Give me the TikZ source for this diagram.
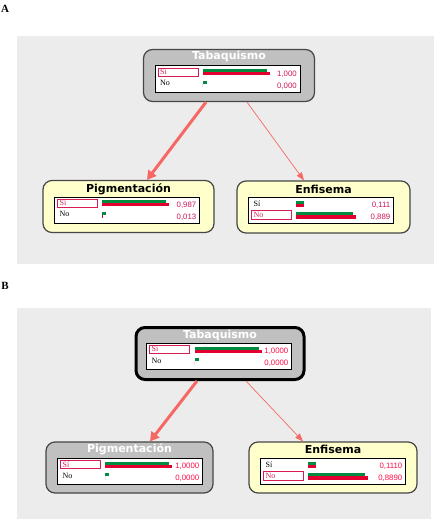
\documentclass[tikz,border=0pt]{standalone}
\usepackage{fontspec}
\setmainfont{Liberation Serif}
\newfontfamily\titlefont{DejaVu Sans}
\newfontfamily\valfont{Liberation Sans}
\usetikzlibrary{arrows.meta}

\definecolor{panelbg}{RGB}{236,236,236}
\definecolor{nodeyellow}{RGB}{255,255,204}
\definecolor{nodegrey}{RGB}{192,192,192}
\definecolor{nodeline}{RGB}{70,70,70}
\definecolor{bargreen}{RGB}{0,140,64}
\definecolor{barred}{RGB}{226,0,48}
\definecolor{selred}{RGB}{214,30,84}
\definecolor{valA}{RGB}{204,20,90}
\definecolor{valB}{RGB}{255,10,70}
\definecolor{inflcol}{RGB}{246,104,100}

\tikzset{
  bnnode/.style={draw=nodeline, line width=1.2pt, rounded corners=9pt, fill=nodeyellow,
    minimum width=171pt, minimum height=52pt, inner sep=0pt},
  bntitle/.style={font=\titlefont\bfseries\fontsize{11}{13}\selectfont, inner sep=0pt},
  statetxt/.style={font=\fontsize{8}{9}\selectfont, inner sep=0pt, anchor=west},
  valtxt/.style={font=\valfont\fontsize{7.8}{9}\selectfont, inner sep=0pt, anchor=east},
  selbox/.style={draw=selred, line width=0.8pt, fill=white},
  panellabel/.style={font=\bfseries\fontsize{11}{12}\selectfont, inner sep=0pt},
  infl/.style={draw=inflcol, line width=0.7pt, -{Triangle[length=8pt,width=6pt]}},
  strong/.style={line width=3pt, -{Triangle[length=9pt,width=10pt]}}
}

% monitor box: node, boxed row, p(Si), p(No), value Si, value No, value colour
\newcommand{\bnmonitor}[7]{%
  \ifnum#2=1 \def\rowAcol{selred}\def\rowBcol{black}\else\def\rowAcol{black}\def\rowBcol{selred}\fi
  \begin{scope}[shift={(#1.north west)}]
    \begin{scope}[shift={(12,17)}]
      \draw[black, line width=0.8pt, fill=white] (0,0) rectangle (145,26);
      \ifnum#2=1 \draw[selbox] (3,2) rectangle (43,10);\else\draw[selbox] (3,13) rectangle (43,22);\fi
      \node[statetxt, text=\rowAcol] (#1si) at (5,6) {Sí};
      \node[statetxt, text=\rowBcol] (#1no) at (5,17.5) {No};
      % bars
      \fill[bargreen] (48,3.5) rectangle ({48+max(4,64*#3)},6.5);
      \fill[barred] (48,6.5) rectangle ({48+67*#3},9.5);
      \fill[bargreen] (48,15) rectangle ({48+max(4,64*#4)},18);
      \fill[barred] (48,18) rectangle ({48+67*#4},21.5);
      \node[valtxt, text=#7] (#1va) at (142,8) {#5};
      \node[valtxt, text=#7] (#1vb) at (142,20) {#6};
    \end{scope}
  \end{scope}}

\begin{document}
\begin{tikzpicture}[x=1pt,y=-1pt]
\useasboundingbox (0,0) rectangle (436,519);
% panels
\fill[panelbg] (17,36) rectangle (434,264);
\fill[panelbg] (17,308) rectangle (431,519);
\node[panellabel] (labA) at (5,8.5) {A};
\node[panellabel] (labB) at (5,286) {B};

% panel A
\node[bnnode, fill=nodegrey] (tabA) at (229,75.5) {};
\node[bntitle, text=white] (tabAt) at ([yshift=-8pt]tabA.north) {Tabaquismo};
\bnmonitor{tabA}{1}{1}{0}{1,000}{0,000}{valA}

\node[bnnode] (pigA) at (128.5,206.5) {};
\node[bntitle] (pigAt) at ([yshift=-9pt]pigA.north) {Pigmentación};
\bnmonitor{pigA}{1}{0.987}{0.013}{0,987}{0,013}{valA}

\node[bnnode, minimum width=173pt] (enfA) at (323.5,207) {};
\node[bntitle] (enfAt) at ([yshift=-8.5pt]enfA.north) {Enfisema};
\bnmonitor{enfA}{2}{0.111}{0.889}{0,111}{0,889}{valA}

\draw[infl, strong] ([xshift=-23pt]tabA.south) -- ([xshift=18.5pt]pigA.north);
\draw[infl] ([xshift=18pt]tabA.south) -- ([xshift=-19.5pt]enfA.north);

% panel B
\node[bnnode, fill=nodegrey, draw=black, line width=3pt, minimum width=168pt] (tabB) at (220,353.5) {};
\node[bntitle, text=white] (tabBt) at ([yshift=-9pt]tabB.north) {Tabaquismo};
\bnmonitor{tabB}{1}{1}{0}{1,0000}{0,0000}{valB}

\node[bnnode, fill=nodegrey, minimum width=167pt, minimum height=51pt] (pigB) at (129.5,467.5) {};
\node[bntitle, text=white] (pigBt) at ([yshift=-8pt]pigB.north) {Pigmentación};
\bnmonitor{pigB}{1}{1}{0}{1,0000}{0,0000}{valB}

\node[bnnode, minimum width=168pt, minimum height=51pt] (enfB) at (333,467.5) {};
\node[bntitle] (enfBt) at ([yshift=-8pt]enfB.north) {Enfisema};
\bnmonitor{enfB}{2}{0.111}{0.889}{0,1110}{0,8890}{valB}

\draw[infl, strong] ([xshift=-23pt]tabB.south) -- ([xshift=20.5pt]pigB.north);
\draw[infl] ([xshift=26pt]tabB.south) -- ([xshift=-30pt]enfB.north);
\end{tikzpicture}
\end{document}
